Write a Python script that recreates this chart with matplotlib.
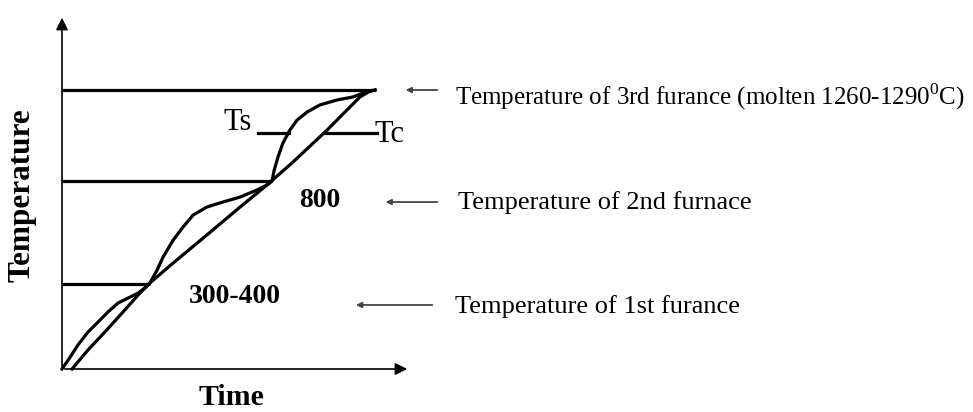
import numpy as np
import matplotlib.pyplot as plt

plt.rcParams['font.family'] = ['Liberation Serif', 'DejaVu Serif']
plt.rcParams['mathtext.fontset'] = 'custom'
plt.rcParams['mathtext.rm'] = 'Liberation Serif'

# furnace set points (deg C) and where each heating stage ends (time units)
furnace_T   = [395, 869, 1290]
furnace_end = [2.81, 6.71, 10.0]
furnace_txt = ["Temperature of 1st furance",
               "Temperature of 2nd furnace",
               r"Temperature of 3rd furance (molten 1260-1290$^{\mathrm{0}}$C)"]
stage_lbl   = ["300-400", "800"]

# surface temperature Ts (curved)
ts_t = [0.0, 0.26, 0.51, 0.83, 1.15, 1.47, 1.79, 2.11, 2.43, 2.65, 2.81,
        3.04, 3.23, 3.55, 3.87, 4.19, 4.63, 5.14, 5.69, 6.23, 6.55, 6.71,
        6.78, 6.90, 7.06, 7.28, 7.51, 7.83, 8.24, 8.79, 9.30, 9.62, 9.84, 10.0]
ts_T = [0, 55, 111, 171, 217, 264, 305, 328, 351, 375, 398,
        458, 518, 596, 657, 712, 749, 772, 795, 828, 851, 869,
        920, 980, 1045, 1105, 1151, 1188, 1221, 1244, 1258, 1276, 1285, 1290]

# core temperature Tc (near straight)
tc_t = [0.32, 0.83, 1.37, 1.92, 2.43, 2.81, 3.55, 4.63, 5.69, 6.55, 7.38,
        8.47, 9.52, 9.84, 10.0]
tc_T = [0, 88, 171, 259, 342, 398, 490, 620, 749, 851, 957,
        1105, 1258, 1285, 1290]

# Ts / Tc marker lines
mark_T  = 1091
ts_mark = (6.26, 7.24)
tc_mark = (8.40, 10.06)

fig = plt.figure(figsize=(9.73, 4.12), dpi=100)
ax = fig.add_axes([0, 0, 1, 1])
ax.set_xlim(-1.981, 29.105)
ax.set_ylim(-198.8, 1706.2)
ax.axis('off')

lw = 2.3
# axes with arrow heads
ax.annotate('', xy=(0, 1637), xytext=(0, 0),
            arrowprops=dict(arrowstyle='-|>', color='black', lw=1.2, mutation_scale=18))
ax.annotate('', xy=(11.12, 0), xytext=(0, 0),
            arrowprops=dict(arrowstyle='-|>', color='black', lw=1.2, mutation_scale=18))

for T, e in zip(furnace_T, furnace_end):
    ax.plot([0, e], [T, T], color='black', lw=lw, solid_capstyle='butt')

ax.plot(ts_t, ts_T, color='black', lw=lw)
ax.plot(tc_t, tc_T, color='black', lw=lw)

ax.plot(ts_mark, [mark_T, mark_T], color='black', lw=lw)
ax.plot(tc_mark, [mark_T, mark_T], color='black', lw=lw)
ax.text(5.62, 1142, "Ts", fontsize=22, ha='center', va='center')
ax.text(10.45, 1082, "Tc", fontsize=22, ha='center', va='center')

ax.text(5.53, 333, stage_lbl[0], fontsize=20, fontweight='bold', ha='center', va='center')
ax.text(8.24, 781, stage_lbl[1], fontsize=20, fontweight='bold', ha='center', va='center')

# side arrows + captions
arr_x = [(12.08, 10.89), (12.08, 10.25), (11.92, 9.30)]
arr_y = [1290, 772, 296]
txt_x = [12.56, 12.65, 12.56]
txt_y = [1257, 768, 291]
txt_fs = [18, 19, 19]
for i in range(3):
    j = 2 - i
    ax.annotate('', xy=(arr_x[i][1], arr_y[i]), xytext=(arr_x[i][0], arr_y[i]),
                arrowprops=dict(arrowstyle='-|>', color='#444444', lw=1.3, mutation_scale=8))
    ax.text(txt_x[i], txt_y[i], furnace_txt[j], fontsize=txt_fs[i], ha='left', va='center')

fig.text(0.0226, 0.527, "Temperature", fontsize=22.5, fontweight='bold',
         rotation=90, ha='center', va='center')
fig.text(0.238, 0.034, "Time", fontsize=21.5, fontweight='bold', ha='center', va='center')

fig.savefig('out.png', dpi=100)
